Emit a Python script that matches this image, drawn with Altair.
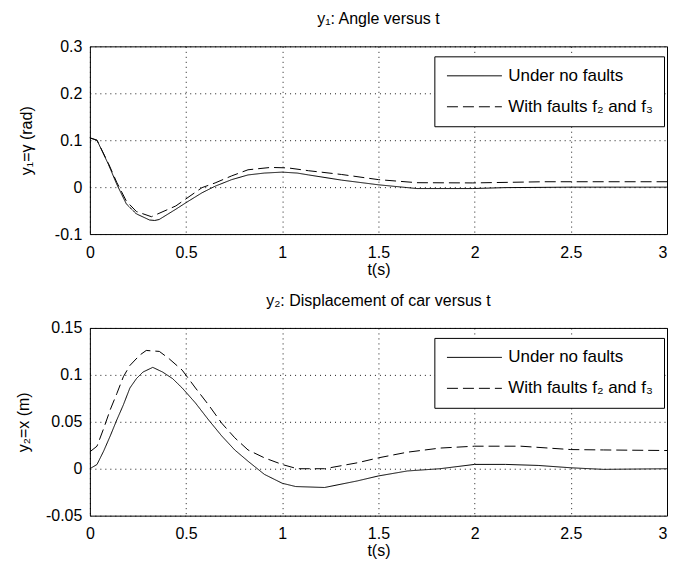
import altair as alt
import pandas as pd

FONT = "Liberation Sans"
S1 = "Under no faults"
S2 = "With faults f₂ and f₃"

# ---- y1: angle ----
T_ANG_NOF = [0, 0.037, 0.097, 0.14, 0.19, 0.242, 0.31, 0.337, 0.36, 0.447, 0.5, 0.583,
             0.651, 0.737, 0.822, 0.907, 1.0, 1.078, 1.137, 1.308, 1.5, 1.7, 1.99, 2.16, 2.5, 3.0]
Y_ANG_NOF = [0.105, 0.1, 0.048, 0.006, -0.036, -0.057, -0.070, -0.071, -0.069, -0.047, -0.033, -0.012,
             0.002, 0.016, 0.026, 0.030, 0.032, 0.030, 0.026, 0.015, 0.005, -0.003, -0.003, -0.001, 0.0, 0.0]
T_ANG_F = [0, 0.037, 0.097, 0.14, 0.19, 0.242, 0.32, 0.447, 0.583, 0.651, 0.737, 0.822,
           0.94, 1.03, 1.137, 1.308, 1.5, 1.7, 1.99, 2.36, 3.0]
Y_ANG_F = [0.105, 0.1, 0.05, 0.01, -0.03, -0.052, -0.063, -0.040, -0.001, 0.009, 0.024, 0.037,
           0.042, 0.041, 0.035, 0.027, 0.016, 0.0095, 0.009, 0.0115, 0.0115]

# ---- y2: displacement ----
T_DIS_NOF = [0, 0.037, 0.072, 0.106, 0.14, 0.174, 0.208, 0.242, 0.276, 0.327, 0.378, 0.43, 0.48,
             0.549, 0.617, 0.685, 0.753, 0.822, 0.907, 1.0, 1.07, 1.22, 1.39, 1.5, 1.65, 1.82,
             2.0, 2.16, 2.33, 2.5, 2.67, 3.0]
Y_DIS_NOF = [0, 0.0045, 0.019, 0.035, 0.052, 0.068, 0.086, 0.096, 0.103, 0.108, 0.103, 0.096, 0.086,
             0.070, 0.052, 0.035, 0.020, 0.008, -0.006, -0.0155, -0.019, -0.020, -0.013, -0.0077, -0.0024, 0.0,
             0.0046, 0.0046, 0.0035, 0.001, -0.0007, 0.0]
T_DIS_F = [0, 0.037, 0.072, 0.106, 0.14, 0.174, 0.208, 0.259, 0.293, 0.361, 0.413, 0.48, 0.549,
           0.617, 0.685, 0.753, 0.822, 0.907, 1.0, 1.078, 1.22, 1.39, 1.5, 1.65, 1.82, 2.0, 2.24,
           2.5, 2.67, 3.0]
Y_DIS_F = [0.018, 0.024, 0.043, 0.063, 0.080, 0.098, 0.110, 0.121, 0.126, 0.125, 0.117, 0.105, 0.086,
           0.068, 0.0486, 0.033, 0.020, 0.0116, 0.0045, 0.0, 0.0, 0.0063, 0.0116, 0.0176, 0.022, 0.024, 0.024,
           0.0204, 0.020, 0.0194]

X_TICKS = [0, 0.5, 1, 1.5, 2, 2.5, 3]
Y1_TICKS = [-0.1, 0, 0.1, 0.2, 0.3]
Y2_TICKS = [-0.05, 0, 0.05, 0.1, 0.15]


def frame(t1, y1, t2, y2):
    rows = [{"t": a, "v": b, "series": S1} for a, b in zip(t1, y1)]
    rows += [{"t": a, "v": b, "series": S2} for a, b in zip(t2, y2)]
    return pd.DataFrame(rows)


LABEL_EXPR = "(datum.value < 0 ? '-' : '') + format(abs(datum.value), '~g')"


def panel(df, title, ytitle, ydom, yticks, ytp):
    legend = alt.Legend(
        title=None, orient="none", legendX=345, legendY=10, direction="vertical",
        symbolType="M-1,0H7", symbolSize=189, symbolStrokeWidth=1,
        symbolStrokeColor="black", strokeColor="black", fillColor="white",
        padding=11, rowPadding=13, labelFont=FONT, labelFontSize=17, labelColor="black",
        labelOffset=46, labelLimit=400,
    )
    return alt.Chart(df).mark_line(color="black", strokeWidth=1).encode(
        x=alt.X("t:Q", scale=alt.Scale(domain=[0, 3], nice=False),
                axis=alt.Axis(values=X_TICKS, labelExpr=LABEL_EXPR, labelFlush=False,
                              labelAlign={"condition": {"test": "datum.value >= 3", "value": "right"},
                                          "value": "center"},
                              labelPadding=10, title="t(s)", titlePadding=1)),
        y=alt.Y("v:Q", scale=alt.Scale(domain=ydom, nice=False),
                axis=alt.Axis(values=yticks, labelExpr=LABEL_EXPR, title=ytitle, titlePadding=ytp)),
        strokeDash=alt.StrokeDash("series:N",
                                  scale=alt.Scale(domain=[S1, S2], range=[[1, 0], [11, 5]]),
                                  legend=legend),
        order="t:Q",
    ).properties(
        width=578, height=188,
        title=alt.TitleParams(title, font=FONT, fontSize=16, fontWeight="normal",
                              color="black", offset=11, frame="group"),
    )


top = panel(frame(T_ANG_NOF, Y_ANG_NOF, T_ANG_F, Y_ANG_F), "y₁: Angle versus t",
            "y₁=γ (rad)", [-0.1, 0.3], Y1_TICKS, 20)
bottom = panel(frame(T_DIS_NOF, Y_DIS_NOF, T_DIS_F, Y_DIS_F), "y₂: Displacement of car versus t",
               "y₂=x (m)", [-0.05, 0.15], Y2_TICKS, 14)

chart = alt.vconcat(top, bottom, spacing=14).resolve_legend(strokeDash="independent").properties(
    padding={"left": 7, "top": 2, "right": 0, "bottom": 0},
    background="white",
).configure_view(stroke="black", strokeWidth=1).configure_axis(
    grid=True, gridColor="black", gridDash=[1, 4], gridWidth=1, gridOpacity=0.9,
    domain=False, ticks=False,
    labelFont=FONT, labelFontSize=16, labelColor="black", labelPadding=8,
    titleFont=FONT, titleFontSize=16, titleFontWeight="normal", titleColor="black",
)

chart.save("out.html", embed_options={"renderer": "svg", "actions": False})
